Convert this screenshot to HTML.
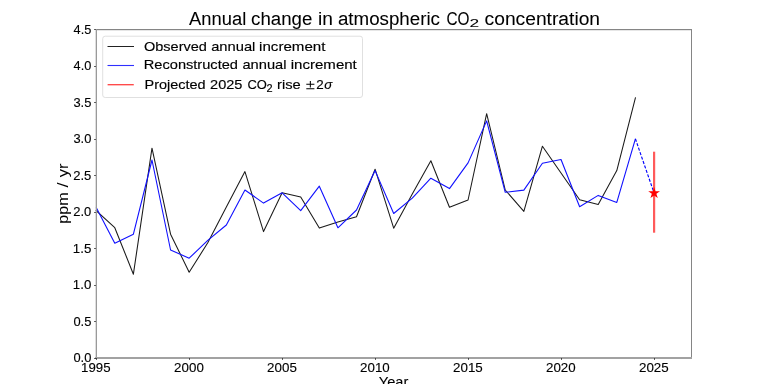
<!DOCTYPE html>
<html><head><meta charset="utf-8"><style>
html,body{margin:0;padding:0;background:#fff;}
svg{display:block;will-change:transform;font-family:"Liberation Sans",sans-serif;}
</style></head><body>
<svg width="768" height="384" viewBox="0 0 768 384">
<rect width="768" height="384" fill="#fff"/>
<g fill="#000" stroke="#000" stroke-width="0.06"><text x="189.11" y="24.80" font-size="18.00" textLength="57.11" lengthAdjust="spacingAndGlyphs">Annual</text><text x="251.11" y="24.80" font-size="18.00" textLength="61.22" lengthAdjust="spacingAndGlyphs">change</text><text x="318.12" y="24.80" font-size="18.00" textLength="14.93" lengthAdjust="spacingAndGlyphs">in</text><text x="337.90" y="24.80" font-size="18.00" textLength="102.09" lengthAdjust="spacingAndGlyphs">atmospheric</text><text x="446.52" y="24.80" font-size="18.00" textLength="23.01" lengthAdjust="spacingAndGlyphs">CO</text><text x="469.43" y="27.40" font-size="11.80" textLength="9.64" lengthAdjust="spacingAndGlyphs">2</text><text x="484.58" y="24.80" font-size="18.00" textLength="115.47" lengthAdjust="spacingAndGlyphs">concentration</text></g>
<polyline fill="none" stroke="#1a1a1a" stroke-width="1.05" stroke-linejoin="round" stroke-linecap="square" points="96.20,210.70 114.79,227.70 133.39,274.20 151.98,148.20 170.57,234.20 189.17,272.20 207.76,242.80 226.35,207.00 244.94,171.60 263.54,231.60 282.13,192.70 300.72,196.90 319.32,228.10 337.91,222.00 356.50,216.70 375.09,169.20 393.69,228.20 412.28,194.10 430.87,160.70 449.47,207.20 468.06,200.00 486.65,113.70 505.25,190.00 523.84,211.40 542.43,146.20 561.02,173.00 579.62,199.80 598.21,204.50 616.80,170.60 635.40,98.00"/>
<polyline fill="none" stroke="#1010ff" stroke-width="1.1" stroke-linejoin="round" points="96.20,207.50 114.79,243.30 133.39,234.20 151.98,160.00 170.57,250.00 189.17,258.20 207.76,240.40 226.35,225.00 244.94,190.00 263.54,203.10 282.13,192.80 300.72,210.70 319.32,186.20 337.91,227.80 356.50,210.00 375.09,170.60 393.69,213.50 412.28,198.20 430.87,178.20 449.47,188.60 468.06,162.90 486.65,120.90 505.25,192.30 523.84,190.10 542.43,163.30 561.02,159.50 579.62,206.80 598.21,195.40 616.80,202.40 635.40,138.80"/>
<line x1="635.40" y1="138.8" x2="654.1" y2="193.1" stroke="#0000ff" stroke-width="1.15" stroke-dasharray="3.1 1.6"/>
<rect x="653" y="151.7" width="2.2" height="81" fill="#ff5a5a"/>
<polygon fill="#ff0000" points="654.10,186.90 655.49,191.18 660.00,191.18 656.35,193.83 657.74,198.12 654.10,195.47 650.46,198.12 651.85,193.83 648.20,191.18 652.71,191.18"/>
<rect x="96" y="29" width="596" height="1" fill="#858585"/>
<rect x="96" y="30" width="595" height="0.25" fill="#000" fill-opacity="0.4"/>
<rect x="691" y="29" width="1" height="330" fill="#858585"/>
<rect x="96" y="29" width="1" height="330" fill="#9a9a9a"/>
<rect x="95" y="29" width="1" height="330" fill="#000" fill-opacity="0.13"/>
<rect x="95" y="357" width="597" height="2" fill="#a2a2a2"/>
<g stroke="#000" stroke-width="1" stroke-opacity="0.6"><line x1="94" y1="358.50" x2="96" y2="358.50"/><line x1="94" y1="321.50" x2="96" y2="321.50"/><line x1="94" y1="285.50" x2="96" y2="285.50"/><line x1="94" y1="248.50" x2="96" y2="248.50"/><line x1="94" y1="212.50" x2="96" y2="212.50"/><line x1="94" y1="175.50" x2="96" y2="175.50"/><line x1="94" y1="139.50" x2="96" y2="139.50"/><line x1="94" y1="102.50" x2="96" y2="102.50"/><line x1="94" y1="66.50" x2="96" y2="66.50"/><line x1="94" y1="29.50" x2="96" y2="29.50"/><line x1="96.50" y1="358" x2="96.50" y2="360"/><line x1="189.50" y1="358" x2="189.50" y2="360"/><line x1="282.50" y1="358" x2="282.50" y2="360"/><line x1="375.50" y1="358" x2="375.50" y2="360"/><line x1="468.50" y1="358" x2="468.50" y2="360"/><line x1="561.50" y1="358" x2="561.50" y2="360"/><line x1="654.50" y1="358" x2="654.50" y2="360"/></g>
<g fill="#000" stroke="#000" stroke-width="0.12"><text x="73.40" y="362.30" font-size="12.80" textLength="17.91" lengthAdjust="spacingAndGlyphs">0.0</text><text x="73.40" y="325.80" font-size="12.80" textLength="17.95" lengthAdjust="spacingAndGlyphs">0.5</text><text x="72.89" y="289.30" font-size="12.80" textLength="18.43" lengthAdjust="spacingAndGlyphs">1.0</text><text x="72.89" y="252.80" font-size="12.80" textLength="18.47" lengthAdjust="spacingAndGlyphs">1.5</text><text x="73.25" y="216.30" font-size="12.80" textLength="18.06" lengthAdjust="spacingAndGlyphs">2.0</text><text x="73.25" y="179.80" font-size="12.80" textLength="18.10" lengthAdjust="spacingAndGlyphs">2.5</text><text x="73.41" y="143.30" font-size="12.80" textLength="17.89" lengthAdjust="spacingAndGlyphs">3.0</text><text x="73.41" y="106.80" font-size="12.80" textLength="17.93" lengthAdjust="spacingAndGlyphs">3.5</text><text x="73.61" y="70.30" font-size="12.80" textLength="17.69" lengthAdjust="spacingAndGlyphs">4.0</text><text x="73.61" y="33.80" font-size="12.80" textLength="17.73" lengthAdjust="spacingAndGlyphs">4.5</text><text x="81.09" y="371.70" font-size="13.10" textLength="29.47" lengthAdjust="spacingAndGlyphs">1995</text><text x="174.14" y="371.70" font-size="13.10" textLength="29.69" lengthAdjust="spacingAndGlyphs">2000</text><text x="267.11" y="371.70" font-size="13.10" textLength="29.73" lengthAdjust="spacingAndGlyphs">2005</text><text x="360.07" y="371.70" font-size="13.10" textLength="29.69" lengthAdjust="spacingAndGlyphs">2010</text><text x="453.04" y="371.70" font-size="13.10" textLength="29.73" lengthAdjust="spacingAndGlyphs">2015</text><text x="546.00" y="371.70" font-size="13.10" textLength="29.69" lengthAdjust="spacingAndGlyphs">2020</text><text x="638.97" y="371.70" font-size="13.10" textLength="29.73" lengthAdjust="spacingAndGlyphs">2025</text></g><g fill="#000" stroke="#000" stroke-width="0.1"><text x="378.79" y="386.70" font-size="15.20" textLength="29.54" lengthAdjust="spacingAndGlyphs">Year</text></g>
<g fill="#000" transform="rotate(-90)"><text x="-223.85" y="67.50" font-size="15.20" textLength="31.62" lengthAdjust="spacingAndGlyphs">ppm</text><text x="-187.60" y="67.50" font-size="15.20" textLength="5.10" lengthAdjust="spacingAndGlyphs">/</text><text x="-177.34" y="67.50" font-size="15.20" textLength="13.87" lengthAdjust="spacingAndGlyphs">yr</text></g>
<rect x="102.7" y="36.2" width="259.8" height="61.3" rx="2.5" fill="#fff" fill-opacity="0.8" stroke="#e0e0e0" stroke-width="1"/>
<line x1="107.5" y1="46.5" x2="134" y2="46.5" stroke="#222" stroke-width="1.05"/>
<line x1="107.5" y1="65.5" x2="134" y2="65.5" stroke="#3030ff" stroke-width="1.1"/>
<line x1="107.6" y1="84.7" x2="133.8" y2="84.7" stroke="#ff4a4a" stroke-width="1.35"/>
<g fill="#000" stroke="#000" stroke-width="0.15"><text x="144.01" y="50.50" font-size="13.20" textLength="62.92" lengthAdjust="spacingAndGlyphs">Observed</text><text x="211.17" y="50.50" font-size="13.20" textLength="44.21" lengthAdjust="spacingAndGlyphs">annual</text><text x="259.09" y="50.50" font-size="13.20" textLength="66.32" lengthAdjust="spacingAndGlyphs">increment</text><text x="143.80" y="69.45" font-size="13.20" textLength="94.14" lengthAdjust="spacingAndGlyphs">Reconstructed</text><text x="242.48" y="69.45" font-size="13.20" textLength="44.00" lengthAdjust="spacingAndGlyphs">annual</text><text x="290.79" y="69.45" font-size="13.20" textLength="66.02" lengthAdjust="spacingAndGlyphs">increment</text><text x="144.51" y="89.05" font-size="13.20" textLength="61.12" lengthAdjust="spacingAndGlyphs">Projected</text><text x="210.07" y="89.05" font-size="13.20" textLength="32.34" lengthAdjust="spacingAndGlyphs">2025</text><text x="247.44" y="89.05" font-size="13.20" textLength="19.37" lengthAdjust="spacingAndGlyphs">CO</text><text x="266.45" y="91.50" font-size="10.40" textLength="6.10" lengthAdjust="spacingAndGlyphs">2</text><text x="277.03" y="89.05" font-size="13.20" textLength="23.63" lengthAdjust="spacingAndGlyphs">rise</text><text x="316.23" y="89.20" font-size="13.20" textLength="7.45" lengthAdjust="spacingAndGlyphs">2</text><text x="324.36" y="89.30" font-size="13.20" textLength="7.98" lengthAdjust="spacingAndGlyphs" font-style="italic">σ</text></g>
<path d="M306.3 84.3H314.4M310.35 80.9V87.6M306.3 88.8H314.4" stroke="#000" stroke-width="1.05" fill="none"/>
</svg>
</body></html>
